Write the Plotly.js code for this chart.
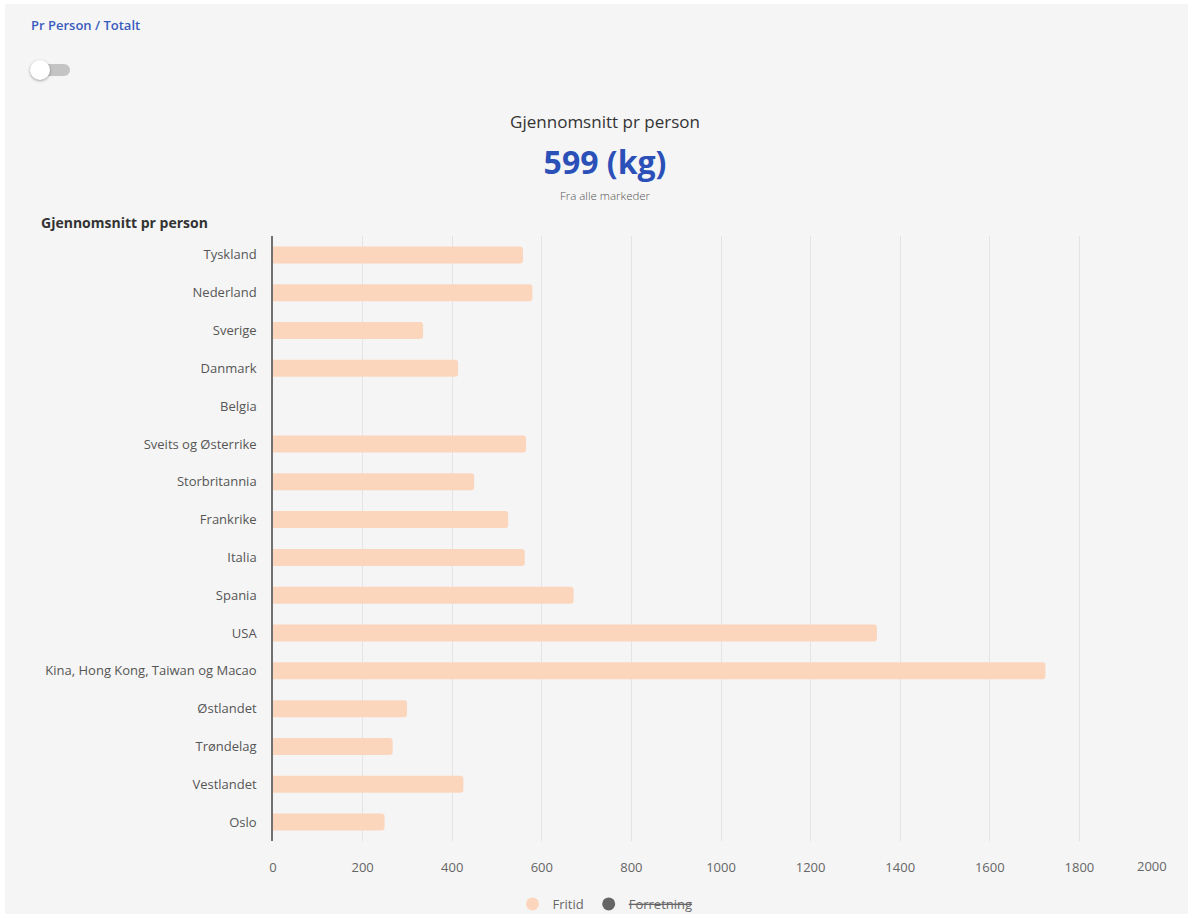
<!DOCTYPE html>
<html>
<head>
<meta charset="utf-8">
<script src="https://cdn.plot.ly/plotly-3.0.1.min.js"></script>
<style>
  html, body { margin: 0; padding: 0; background: #ffffff; width: 1193px; height: 918px; overflow: hidden; font-family: "Open Sans", sans-serif; }
  #card { position: absolute; left: 5px; top: 4px; width: 1183px; height: 910px; background: #f5f5f5; }
  .abs { position: absolute; white-space: nowrap; }
  #switchlbl { left: 31px; top: 16px; font-size: 13px; font-weight: 600; color: #3a5bbf; }
  #track { left: 36px; top: 64px; width: 34px; height: 12px; border-radius: 6px; background: #c4c4c4; }
  #thumb { left: 30px; top: 60px; width: 20px; height: 20px; border-radius: 50%; background: #ffffff; box-shadow: 0 1px 3px rgba(0,0,0,0.35); }
  .center { left: 605px; transform: translateX(-50%); }
  #h1 { top: 110px; font-size: 17px; color: #333333; }
  #h2 { top: 140px; font-size: 32px; font-weight: 700; color: #2b50b8; }
  #h3 { top: 188px; font-size: 11.5px; color: #555555; font-weight: 300; }
  #plot { position: absolute; left: 0; top: 0; width: 1193px; height: 918px; }
</style>
</head>
<body>
<div id="card"></div>
<div class="abs" id="switchlbl">Pr Person / Totalt</div>
<div class="abs" id="track"></div>
<div class="abs" id="thumb"></div>
<div class="abs center" id="h1">Gjennomsnitt pr person</div>
<div class="abs center" id="h2">599 (kg)</div>
<div class="abs center" id="h3">Fra alle markeder</div>
<div id="plot"></div>
<script>
const categories = [
  "Tyskland", "Nederland", "Sverige", "Danmark", "Belgia",
  "Sveits og Østerrike", "Storbritannia", "Frankrike", "Italia", "Spania",
  "USA", "Kina, Hong Kong, Taiwan og Macao", "Østlandet", "Trøndelag",
  "Vestlandet", "Oslo"
];
const fritid = [558, 579, 335, 413, null, 565, 449, 525, 562, 671, 1348, 1724, 299, 267, 425, 249];
const seriesNames = ["Fritid", "Forretning"];
const xTicks = [0, 200, 400, 600, 800, 1000, 1200, 1400, 1600, 1800, 2000];

const barColor = "#fcd5bd";
const hiddenColor = "#666666";

const lastTick = xTicks[xTicks.length - 1];

const traces = [
  {
    type: "bar",
    orientation: "h",
    y: categories,
    x: fritid,
    name: seriesNames[0],
    showlegend: false,
    marker: { color: barColor, cornerradius: 3 },
    hoverinfo: "x+y"
  },
  {
    type: "scatter",
    mode: "markers",
    x: [null], y: [null],
    name: seriesNames[0],
    marker: { color: barColor, size: 13, symbol: "circle" },
    hoverinfo: "skip"
  },
  {
    type: "scatter",
    mode: "markers",
    x: [null], y: [null],
    name: "<s>" + seriesNames[1] + "</s>",
    marker: { color: hiddenColor, size: 13, symbol: "circle" },
    hoverinfo: "skip"
  }
];

const layout = {
  width: 1193,
  height: 918,
  paper_bgcolor: "rgba(0,0,0,0)",
  plot_bgcolor: "rgba(0,0,0,0)",
  margin: { l: 273, r: 24, t: 236, b: 77, pad: 0 },
  font: { family: "Open Sans, sans-serif", size: 13, color: "#666666" },
  title: {
    text: "<b>Gjennomsnitt pr person</b>",
    font: { family: "Open Sans, sans-serif", size: 14, color: "#333333" },
    xref: "container", yref: "container",
    x: 41 / 1193, xanchor: "left",
    y: 1 - 223 / 918, yanchor: "middle"
  },
  bargap: 0.55,
  xaxis: {
    range: [0, lastTick],
    tickvals: xTicks,
    ticktext: xTicks.map(v => v === lastTick ? "" : String(v)),
    showgrid: true,
    gridcolor: "#e4e4e4",
    gridwidth: 1,
    zeroline: false,
    showline: false,
    ticks: "outside",
    ticklen: 14,
    tickcolor: "rgba(0,0,0,0)",
    tickfont: { size: 13, color: "#666666" },
    fixedrange: true
  },
  yaxis: {
    type: "category",
    categoryorder: "array",
    categoryarray: categories,
    autorange: "reversed",
    showgrid: false,
    zeroline: false,
    showline: true,
    linecolor: "#707070",
    linewidth: 1.5,
    ticks: "outside",
    ticklen: 12,
    tickcolor: "rgba(0,0,0,0)",
    tickfont: { size: 13, color: "#555555" },
    fixedrange: true
  },
  annotations: [
    {
      text: String(lastTick),
      xref: "x", yref: "paper",
      x: lastTick, y: 0,
      xanchor: "right", yanchor: "top",
      yshift: -14,
      showarrow: false,
      font: { size: 13, color: "#666666" }
    }
  ],
  showlegend: true,
  legend: {
    orientation: "h",
    xref: "container", yref: "container",
    x: 605 / 1193, xanchor: "center",
    y: 1 - 904 / 918, yanchor: "middle",
    font: { size: 13, color: "#666666" },
    bgcolor: "rgba(0,0,0,0)",
    itemclick: false,
    itemdoubleclick: false
  }
};

Plotly.newPlot("plot", traces, layout, { displayModeBar: false, responsive: false });
</script>
</body>
</html>
